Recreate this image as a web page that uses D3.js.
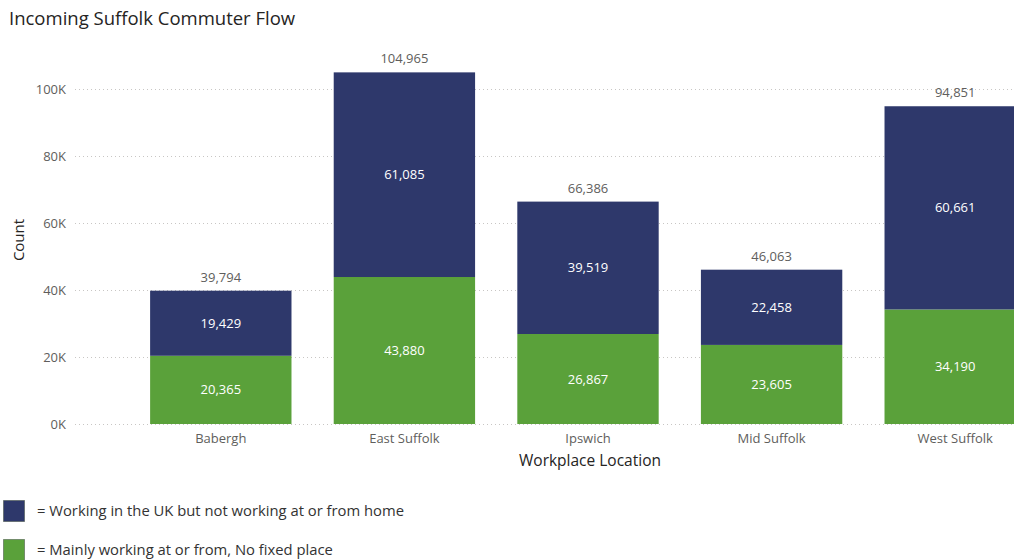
<!DOCTYPE html>
<html>
<head>
<meta charset="utf-8">
<script src="https://cdn.jsdelivr.net/npm/d3@7"></script>
<style>
  html, body { margin: 0; padding: 0; background: #fff; }
  svg { display: block; }
  text { font-family: "Open Sans", "Noto Sans", sans-serif; }
</style>
</head>
<body>
<svg id="chart" width="1014" height="560"></svg>
<script>
// Workplace locations and commuter counts per group
const locations = ["Babergh", "East Suffolk", "Ipswich", "Mid Suffolk", "West Suffolk"];
const notFromHome = [19429, 61085, 39519, 22458, 60661];
const fromHomeOrNoFixed = [20365, 43880, 26867, 23605, 34190];
const yTicks = [0, 20000, 40000, 60000, 80000, 100000];
const seriesNames = [
  "= Working in the UK but not working at or from home",
  "= Mainly working at or from, No fixed place"
];
const seriesColors = ["#2E386B", "#5AA13A"];

const svg = d3.select("#chart");
const fmt = d3.format(",");
const headFont = "Roboto, 'DejaVu Sans', sans-serif";

const x = d3.scaleBand()
  .domain(locations)
  .range([129, 1047])
  .paddingInner(0.23)
  .paddingOuter(0.115);

const y = d3.scaleLinear()
  .domain([0, 100000])
  .range([424, 89]);

// Title
svg.append("text")
  .attr("x", 9).attr("y", 25)
  .attr("font-family", headFont)
  .attr("font-size", 18.5)
  .attr("fill", "#252423")
  .text("Incoming Suffolk Commuter Flow");

// Gridlines and y tick labels
const yAxis = svg.append("g");
yAxis.selectAll("line").data(yTicks).join("line")
  .attr("x1", 75).attr("x2", 1014)
  .attr("y1", d => y(d) + 0.5).attr("y2", d => y(d) + 0.5)
  .attr("stroke", "#C8C6C4")
  .attr("stroke-width", 1)
  .attr("stroke-dasharray", "1,3");
yAxis.selectAll("text").data(yTicks).join("text")
  .attr("x", 66).attr("y", d => y(d))
  .attr("dy", "0.35em")
  .attr("text-anchor", "end")
  .attr("font-size", 13)
  .attr("fill", "#605E5C")
  .text(d => (d / 1000) + "K");

// Y axis title
svg.append("text")
  .attr("transform", "translate(24,240) rotate(-90)")
  .attr("text-anchor", "middle")
  .attr("font-family", headFont)
  .attr("font-size", 15)
  .attr("fill", "#252423")
  .text("Count");

// Stacked bars
const rows = locations.map((loc, i) => ({
  loc,
  a: fromHomeOrNoFixed[i],
  b: notFromHome[i]
}));
const stack = d3.stack().keys(["a", "b"]);
const layers = stack(rows);
const layerColors = [seriesColors[1], seriesColors[0]];

const barG = svg.append("g");
layers.forEach((layer, li) => {
  barG.selectAll(null).data(layer).join("rect")
    .attr("x", d => x(d.data.loc))
    .attr("width", x.bandwidth())
    .attr("y", d => y(d[1]))
    .attr("height", d => y(d[0]) - y(d[1]))
    .attr("fill", layerColors[li]);
  barG.selectAll(null).data(layer).join("text")
    .attr("x", d => x(d.data.loc) + x.bandwidth() / 2)
    .attr("y", d => (y(d[0]) + y(d[1])) / 2)
    .attr("dy", "0.35em")
    .attr("text-anchor", "middle")
    .attr("font-size", 13)
    .attr("fill", "#FFFFFF")
    .text(d => fmt(d[1] - d[0]));
});

// Totals above each bar
svg.append("g").selectAll("text").data(rows).join("text")
  .attr("x", d => x(d.loc) + x.bandwidth() / 2)
  .attr("y", d => y(d.a + d.b) - 9)
  .attr("text-anchor", "middle")
  .attr("font-size", 13)
  .attr("fill", "#605E5C")
  .text(d => fmt(d.a + d.b));

// X tick labels
svg.append("g").selectAll("text").data(locations).join("text")
  .attr("x", d => x(d) + x.bandwidth() / 2)
  .attr("y", 443)
  .attr("text-anchor", "middle")
  .attr("font-size", 13)
  .attr("fill", "#605E5C")
  .text(d => d);

// X axis title
svg.append("text")
  .attr("x", 590).attr("y", 466)
  .attr("text-anchor", "middle")
  .attr("font-family", headFont)
  .attr("font-size", 15.5)
  .attr("fill", "#252423")
  .text("Workplace Location");

// Legend
const legend = svg.append("g");
const legendRows = [0, 1].map(i => ({ name: seriesNames[i], color: seriesColors[i], y: 500 + i * 39 }));
legend.selectAll("rect").data(legendRows).join("rect")
  .attr("x", 3.5).attr("y", d => d.y + 0.5)
  .attr("width", 21).attr("height", 21)
  .attr("fill", d => d.color)
  .attr("stroke", "#3c4a3c")
  .attr("stroke-opacity", 0.5);
legend.selectAll("text").data(legendRows).join("text")
  .attr("x", 37).attr("y", d => d.y + 11)
  .attr("dy", "0.35em")
  .attr("font-size", 14.8)
  .attr("fill", "#333333")
  .text(d => d.name);
</script>
</body>
</html>
